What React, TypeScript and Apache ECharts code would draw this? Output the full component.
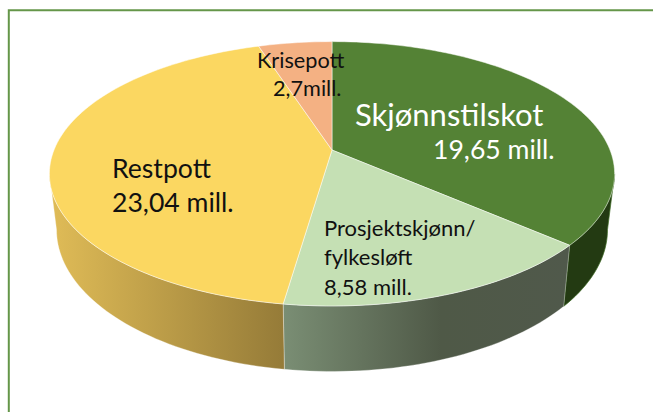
import React, { useEffect, useRef } from "react";
import * as echarts from "echarts";

const categories = ["Skjønnstilskot", "Prosjektskjønn/fylkesløft", "Restpott", "Krisepott"];
const seriesValues = [19.65, 8.58, 23.04, 2.7];
const labelLines = [
  ["Skjønnstilskot", "19,65 mill."],
  ["Prosjektskjønn/", "fylkesløft", "8,58 mill."],
  ["Restpott", "23,04 mill."],
  ["Krisepott", "2,7mill."],
];

const topColors = ["#548235", "#C5E0B4", "#FBD761", "#F4B183"];
const wallFills: any[] = [
  "#233A12",
  {
    type: "linear", x: 0, y: 0, x2: 1, y2: 0,
    colorStops: [
      { offset: 0, color: "#7A8E74" },
      { offset: 0.55, color: "#4F5947" },
      { offset: 1, color: "#50594B" },
    ],
  },
  {
    type: "linear", x: 0, y: 0, x2: 1, y2: 0,
    colorStops: [
      { offset: 0, color: "#E0BC57" },
      { offset: 1, color: "#957B38" },
    ],
  },
  "#A87B5C",
];

// Perspective projection of the pie's top and bottom discs
const CX = 332;
const PERSP = -0.18;
const topDisc = { d: 278, a: 100.9, b: 150 };
const bottomDisc = { d: 271, a: 100.6, b: 204 };
const project = (deg: number, disc: { d: number; a: number; b: number }) => {
  const t = (deg * Math.PI) / 180;
  const u = Math.sin(t);
  const v = -Math.cos(t);
  const w = 1 + PERSP * v;
  return [CX + (disc.d * u) / w, (disc.a * v + disc.b) / w];
};
const total = seriesValues.reduce((s, x) => s + x, 0);
const startAngle = (i: number) =>
  (seriesValues.slice(0, i).reduce((s, x) => s + x, 0) / total) * 360;
const arc = (from: number, to: number, disc: any) => {
  const pts: number[][] = [];
  const n = Math.max(2, Math.ceil(Math.abs(to - from) / 1.5));
  for (let k = 0; k <= n; k++) pts.push(project(from + ((to - from) * k) / n, disc));
  return pts;
};

const WALL_FROM = 100.4;
const WALL_TO = 259.6;

const textBlocks = [
  { x: 355, ys: [114], size: 31, fill: "#fff" },
  { x: 433, ys: [149], size: 26.6, fill: "#fff" },
  { x: 324, ys: [227, 256, 286], size: 22, fill: "#111" },
  { x: 112, ys: [168, 202], size: 26.6, fill: "#111" },
  { x: 257, ys: [60], size: 21.7, fill: "#111" },
  { x: 273, ys: [88], size: 21.7, fill: "#111" },
];
const textSources = [
  [labelLines[0][0]],
  [labelLines[0][1]],
  labelLines[1],
  labelLines[2],
  [labelLines[3][0]],
  [labelLines[3][1]],
];

export default function App() {
  const ref = useRef<HTMLDivElement>(null);
  useEffect(() => {
    document.body.style.background = "#fff";
    const chart = echarts.init(ref.current!, undefined, { renderer: "svg" });
    const texts: any[] = [];
    textBlocks.forEach((b, i) =>
      textSources[i].forEach((s, j) =>
        texts.push({
          type: "text",
          x: b.x,
          y: b.ys[j],
          z: 10,
          silent: true,
          style: {
            text: s,
            fill: b.fill,
            font: `${b.size}px Lato, Carlito, "Open Sans", sans-serif`,
            textVerticalAlign: "middle",
          },
        })
      )
    );
    chart.setOption({
      animation: false,
      backgroundColor: "#fff",
      graphic: {
        elements: [
          {
            type: "rect",
            z: 0,
            silent: true,
            shape: { x: 8.8, y: 10.3, width: 800, height: 600 },
            style: { fill: "#fff", stroke: "#659649", lineWidth: 2 },
          },
          ...texts,
        ],
      },
      series: [
        {
          type: "custom",
          coordinateSystem: "none",
          silent: true,
          z: 2,
          data: seriesValues.map((v, i) => ({ name: categories[i], value: [v] })),
          renderItem: (params: any, api: any) => {
            const i = params.dataIndex;
            const s = startAngle(i);
            const e = s + (api.value(0) / total) * 360;
            const from = Math.max(s, WALL_FROM);
            const to = Math.min(e, WALL_TO);
            if (to <= from) return null;
            const points = [...arc(from, to, topDisc), ...arc(to, from, bottomDisc)];
            return {
              type: "polygon",
              shape: { points },
              style: {
                fill: wallFills[i],
                stroke: i === 0 ? "#3E6B24" : "rgba(255,255,255,0.45)",
                lineWidth: 0.7,
              },
            };
          },
        },
        {
          type: "custom",
          coordinateSystem: "none",
          silent: true,
          z: 3,
          data: seriesValues.map((v, i) => ({ name: categories[i], value: [v] })),
          renderItem: (params: any, api: any) => {
            const i = params.dataIndex;
            const s = startAngle(i);
            const e = s + (api.value(0) / total) * 360;
            const points = [[CX, topDisc.b], ...arc(s, e, topDisc)];
            return {
              type: "polygon",
              shape: { points },
              style: {
                fill: topColors[i],
                stroke: "rgba(255,255,255,0.7)",
                lineWidth: 0.7,
              },
            };
          },
        },
      ],
    });
    return () => chart.dispose();
  }, []);
  return (
    <div
      ref={ref}
      style={{ position: "fixed", left: 0, top: 0, width: 653, height: 412 }}
    />
  );
}
